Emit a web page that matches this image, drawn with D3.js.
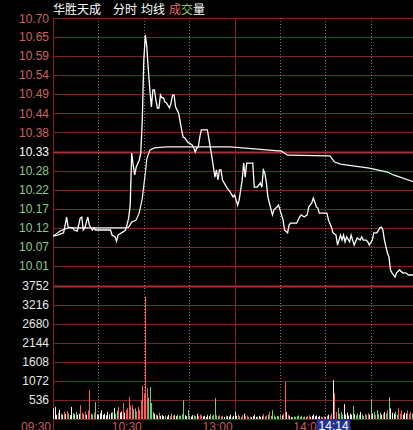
<!DOCTYPE html>
<html><head><meta charset="utf-8">
<script src="https://cdn.jsdelivr.net/npm/d3@7/dist/d3.min.js"></script>
<style>html,body{margin:0;padding:0;background:#000;overflow:hidden}</style>
</head><body>
<script>
// ---------- data ----------
const priceTicks = ["10.70","10.65","10.59","10.54","10.49","10.44","10.38","10.33","10.28","10.22","10.17","10.12","10.07","10.01"];
const prevClose = 10.33;
const volTicks = [3752,3216,2680,2144,1608,1072,536];
const timeTicks = ["09:30","10:30","13:00","14:00"];
const timeTickMin = [0,60,120,180];
const cursorLabel = "14:14";

const priceMin = [0,3,7,9,10,13,14,16,18,19,20,21,23,24,26,27,28,38,39,41,42,43,46,48,50,51,52,53,54,55,57,58,59,60,61,62,63,64,65,66,67,68,69,70,71,72,73,74,75,77,78,79,80,81,82,83,85,86,87,89,92,93,94,95,96,97,98,102,103,104,105,106,107,108,109,110,111,112,115,117,119,120,121,122,123,125,126,127,128,132,133,135,137,138,139,140,141,142,143,145,146,148,149,150,151,152,153,155,156,157,161,162,163,164,166,168,169,171,172,173,174,175,176,181,182,184,185,187,188,190,191,192,193,194,196,197,198,199,201,203,204,205,207,208,209,211,212,214,216,217,218,219,221,222,223,224,225,226,227,229,231,233,235,238,240];
const priceVal = [10.095,10.098,10.104,10.148,10.120,10.118,10.112,10.109,10.145,10.148,10.112,10.118,10.148,10.126,10.112,10.118,10.112,10.112,10.098,10.093,10.081,10.098,10.106,10.112,10.145,10.181,10.326,10.292,10.265,10.287,10.306,10.326,10.418,10.584,10.654,10.620,10.556,10.501,10.454,10.501,10.501,10.473,10.451,10.451,10.487,10.479,10.479,10.468,10.465,10.451,10.465,10.487,10.487,10.454,10.445,10.437,10.390,10.370,10.368,10.356,10.348,10.340,10.329,10.340,10.343,10.370,10.390,10.390,10.365,10.340,10.315,10.287,10.259,10.279,10.251,10.279,10.279,10.251,10.229,10.218,10.204,10.209,10.195,10.181,10.195,10.251,10.298,10.259,10.298,10.298,10.231,10.231,10.243,10.231,10.279,10.270,10.243,10.204,10.187,10.154,10.168,10.176,10.181,10.168,10.154,10.140,10.112,10.104,10.126,10.131,10.131,10.140,10.148,10.154,10.148,10.154,10.176,10.187,10.201,10.190,10.176,10.173,10.159,10.159,10.140,10.120,10.104,10.098,10.070,10.098,10.084,10.098,10.079,10.093,10.079,10.098,10.084,10.070,10.090,10.084,10.093,10.084,10.084,10.079,10.070,10.084,10.104,10.104,10.118,10.120,10.112,10.084,10.048,10.037,10.001,9.993,9.987,9.981,9.993,10.001,9.993,9.993,9.987,9.987,9.987];

const avgMin = [0,5,10,48,50,52,55,57,59,61,62,64,67,75,117,151,155,183,186,190,209,221,225,240];
const avgVal = [10.095,10.110,10.118,10.118,10.120,10.134,10.140,10.160,10.200,10.270,10.310,10.334,10.340,10.343,10.343,10.331,10.320,10.318,10.301,10.295,10.284,10.273,10.265,10.243];

const volValues = [300,340,120,180,260,150,120,200,140,230,160,110,340,170,130,200,120,150,390,180,
140,210,120,240,815,150,120,180,478,130,110,160,250,120,150,110,200,130,170,190,
310,150,230,340,180,210,450,180,250,300,620,380,390,280,300,220,340,260,530,950,
700,3450,870,600,900,450,200,150,120,100,180,90,110,80,100,70,120,90,150,100,
110,80,130,100,90,140,530,100,80,250,90,70,110,100,80,150,90,130,100,70,
90,60,110,80,140,90,120,590,100,80,110,70,90,60,100,80,70,120,60,90,
200,90,130,80,60,110,150,90,100,60,70,50,80,120,60,70,90,60,80,140,
70,100,120,200,90,250,100,60,90,80,110,100,150,1050,200,120,90,60,50,70,
60,80,100,60,90,50,70,60,80,110,60,90,130,80,100,60,90,70,50,80,
60,90,120,100,150,1100,730,200,320,150,200,120,420,130,180,100,150,120,370,140,
100,160,120,200,130,90,150,110,170,120,530,150,200,120,250,140,180,120,150,200,
160,250,620,300,180,150,200,120,300,150,250,130,180,160,250,140,200,150,180];
const volDir = "fffufdfufudffdfdffuudufuuddudffffffffffdfdduffufuuuuudduuuuuuuuddddfdfufffdffuduffdddddffddffddfuuufffffddddddudufdfffdfffuddufuuduffffdfffudududddddddfuufuffdddddddddduufffffffuuufdfuufuuddddffffffdfdddfddudufdfdudddfufdudfffdduuufffuuudddddddddudfufffffff";

// ---------- layout ----------
const W = 413, H = 430;
const L = 53, R = 416.2, T = 18, PB = 266, VT = 286, VB = 419;
const svg = d3.select("body").append("svg").attr("width", W).attr("height", H)
  .style("background", "#000").style("display","block");

const x = d3.scaleLinear().domain([0, 240]).range([L, R]);
const yP = d3.scaleLinear().domain([10.012, 10.701]).range([PB, T]);
const yV = d3.scaleLinear().domain([0, 3752]).range([VB, VT]);

const gridCol = "#7a2424", strongCol = "#a83030";
const priceGrid = d3.range(priceTicks.length).map(i => 10.701 - i * (10.701 - 10.012) / (priceTicks.length - 1));

// horizontal price grid
svg.append("g").selectAll("line").data(priceGrid).join("line")
  .attr("x1", L).attr("x2", W)
  .attr("y1", d => Math.round(yP(d)) + 0.5).attr("y2", d => Math.round(yP(d)) + 0.5)
  .attr("stroke", (d, i) => priceTicks[i] === "10.33" ? strongCol : gridCol)
  .attr("stroke-width", (d, i) => priceTicks[i] === "10.33" ? 2 : 1);

// volume grid
svg.append("g").selectAll("line").data([0].concat(volTicks)).join("line")
  .attr("x1", L).attr("x2", W)
  .attr("y1", d => Math.round(yV(d)) + 0.5).attr("y2", d => Math.round(yV(d)) + 0.5)
  .attr("stroke", d => d === 3752 ? strongCol : gridCol)
  .attr("stroke-width", d => d === 3752 ? 2 : 1);

// vertical lines
const dotted = [30, 60, 90, 150, 180, 210];
svg.append("g").selectAll("line").data(dotted).join("line")
  .attr("x1", d => Math.round(x(d)) + 0.5).attr("x2", d => Math.round(x(d)) + 0.5)
  .attr("y1", T).attr("y2", VB)
  .attr("stroke", "#8a6a6a").attr("stroke-dasharray", "1,2");
svg.append("line").attr("x1", Math.round(x(120)) + 0.5).attr("x2", Math.round(x(120)) + 0.5)
  .attr("y1", T).attr("y2", VB).attr("stroke", "#8a2020");
svg.append("line").attr("x1", L + 0.5).attr("x2", L + 0.5)
  .attr("y1", T).attr("y2", H).attr("stroke", "#8a2020");

// price labels
svg.append("g").selectAll("text").data(priceTicks).join("text")
  .attr("x", 49).attr("y", (d, i) => yP(priceGrid[i]) + (i === 0 ? 2 : 1))
  .attr("text-anchor", "end").attr("dominant-baseline", "middle")
  .attr("font-family", "Liberation Sans, Arial, sans-serif").attr("font-size", 12)
  .attr("fill", d => +d > prevClose + 0.001 ? "#d06262" : (+d < prevClose - 0.001 ? "#8ec88e" : "#ffffff"))
  .text(d => d);

// volume labels
svg.append("g").selectAll("text").data(volTicks).join("text")
  .attr("x", 49).attr("y", d => yV(d) + 0.5)
  .attr("text-anchor", "end").attr("dominant-baseline", "middle")
  .attr("font-family", "Liberation Sans, Arial, sans-serif").attr("font-size", 12)
  .attr("fill", "#e8e8e8").text(d => d);

// volume bars
const dirCol = { u: "#ff5a5a", d: "#6ed06e", f: "#f0f0f0" };
svg.append("g").selectAll("line").data(volValues).join("line")
  .attr("x1", (d, i) => Math.round(x(i)) + 0.5).attr("x2", (d, i) => Math.round(x(i)) + 0.5)
  .attr("y1", VB).attr("y2", d => yV(d))
  .attr("stroke", (d, i) => dirCol[volDir[i]] || "#f0f0f0").attr("stroke-width", 1);

// average line
svg.append("path").datum(avgMin.map((m, i) => [m, avgVal[i]]))
  .attr("d", d3.line().x(d => x(d[0])).y(d => yP(d[1])))
  .attr("fill", "none").attr("stroke", "#f4f4f4").attr("stroke-width", 1.2);

// price line
svg.append("path").datum(priceMin.map((m, i) => [m, priceVal[i]]))
  .attr("d", d3.line().x(d => x(d[0])).y(d => yP(d[1])))
  .attr("fill", "none").attr("stroke", "#ffffff").attr("stroke-width", 1.3);

// title
const title = [["华胜天成", 53, "#ffffff"], ["分时", 113, "#ffffff"], ["均线", 141, "#ffffff"],
               ["成", 169, "#e06a6a"], ["交", 181, "#8fbf6a"], ["量", 193, "#ffffff"]];
svg.append("g").selectAll("text").data(title).join("text")
  .attr("x", d => d[1]).attr("y", 14)
  .attr("font-family", "Noto Sans CJK SC, sans-serif").attr("font-size", 12)
  .attr("fill", d => d[2]).text(d => d[0]);

// time labels
svg.append("g").selectAll("text").data(timeTicks).join("text")
  .attr("x", (d, i) => x(timeTickMin[i]) - 2).attr("y", 431)
  .attr("text-anchor", "end")
  .attr("font-family", "Liberation Sans, Arial, sans-serif").attr("font-size", 12)
  .attr("fill", "#c85a5a").text(d => d);

// cursor time box
const cx = x(194);
svg.append("rect").attr("x", cx - 30).attr("y", 419).attr("width", 34).attr("height", 12)
  .attr("fill", "#23348e");
svg.append("text").attr("x", cx - 13).attr("y", 430).attr("text-anchor", "middle")
  .attr("font-family", "Liberation Sans, Arial, sans-serif").attr("font-size", 12)
  .attr("fill", "#ffffff").text(cursorLabel);
</script>
</body></html>
